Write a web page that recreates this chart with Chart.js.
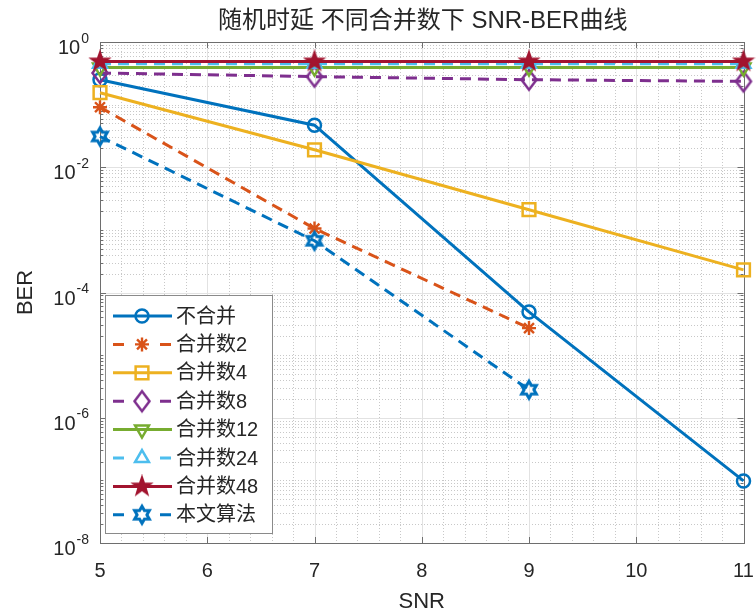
<!DOCTYPE html>
<html>
<head>
<meta charset="utf-8">
<script src="https://cdn.jsdelivr.net/npm/chart.js@4/dist/chart.umd.min.js"></script>
<style>
  html, body { margin: 0; padding: 0; background: #fff; }
  #wrap { width: 756px; height: 615px; }
</style>
</head>
<body>
<div id="wrap"><canvas id="ber" width="756" height="615"></canvas></div>
<script>
// DATA TO DISPLAY
const snr = [5, 7, 9, 11];
const berNoMerge  = [0.25, 0.047, 4.9e-5, 9.8e-8];
const berMerge2   = [0.091, 1.05e-3, 2.7e-5];
const berMerge4   = [0.155, 0.019, 2.1e-3, 2.3e-4];
const berMerge8   = [0.32, 0.28, 0.25, 0.235];
const berMerge12  = [0.39, 0.39, 0.39, 0.39];
const berMerge24  = [0.45, 0.45, 0.45, 0.45];
const berMerge48  = [0.49, 0.49, 0.49, 0.49];
const berProposed = [0.031, 6.7e-4, 2.8e-6];

const seriesNames = ["不合并", "合并数2", "合并数4", "合并数8", "合并数12", "合并数24", "合并数48", "本文算法"];
const xTicks = [5, 6, 7, 8, 9, 10, 11];
const yTickExponents = [0, -2, -4, -6, -8];

const titleText = "随机时延 不同合并数下 SNR-BER曲线";
const xTitle = "SNR";
const yTitle = "BER";

const FONT = "'Liberation Sans', Arial, 'Noto Sans CJK SC', sans-serif";
const TEXT = "#262626";

// MARKERS chart.js does not have
function makeMarker(size, draw) {
  const c = document.createElement('canvas');
  c.width = size; c.height = size;
  const g = c.getContext('2d');
  g.translate(size / 2, size / 2);
  draw(g);
  return c;
}
function starPath(g, n, outer, inner) {
  g.beginPath();
  for (let i = 0; i < n * 2; i++) {
    const r = i % 2 ? inner : outer;
    const a = -Math.PI / 2 + i * Math.PI / n;
    g.lineTo(r * Math.cos(a), r * Math.sin(a));
  }
  g.closePath();
}
const pentagram = makeMarker(24, g => {
  starPath(g, 5, 10, 4);
  g.fillStyle = '#A2142F'; g.fill();
  g.strokeStyle = '#A2142F'; g.lineWidth = 1.5; g.stroke();
});
const hexagram = makeMarker(24, g => {
  starPath(g, 6, 8.5, 4.9);
  g.strokeStyle = '#0072BD'; g.lineWidth = 3; g.lineJoin = 'miter'; g.stroke();
});
const diamond = makeMarker(26, g => {
  g.beginPath();
  g.moveTo(0, -10); g.lineTo(7.5, 0); g.lineTo(0, 10); g.lineTo(-7.5, 0); g.closePath();
  g.strokeStyle = '#7E2F8E'; g.lineWidth = 2.5; g.stroke();
});

function series(label, ys, color, dashed, style, radius, extra) {
  return Object.assign({
    label: label,
    data: ys.map((y, i) => ({ x: snr[i], y: y })),
    borderColor: color,
    backgroundColor: color,
    borderWidth: 3,
    borderDash: dashed ? [11, 7] : [],
    pointStyle: style,
    pointRadius: radius,
    pointHoverRadius: radius,
    pointBorderColor: color,
    pointBackgroundColor: 'rgba(0,0,0,0)',
    pointBorderWidth: 2.5,
    pointRotation: 0,
    tension: 0,
    clip: false
  }, extra || {});
}

const datasets = [
  series(seriesNames[0], berNoMerge, '#0072BD', false, 'circle', 6.5),
  series(seriesNames[1], berMerge2, '#D95319', true, 'star', 7, { pointBorderWidth: 2.4 }),
  series(seriesNames[2], berMerge4, '#EDB120', false, 'rect', 9),
  series(seriesNames[3], berMerge8, '#7E2F8E', true, diamond, 10),
  series(seriesNames[4], berMerge12, '#77AC30', false, 'triangle', 8, { pointRotation: 180 }),
  series(seriesNames[5], berMerge24, '#4DBEEE', true, 'triangle', 8),
  series(seriesNames[6], berMerge48, '#A2142F', false, pentagram, 10),
  series(seriesNames[7], berProposed, '#0072BD', true, hexagram, 10)
];
datasets.forEach((d, i) => { d.order = -i; });

// GRID, BOX AND TICKS (matlab look)
const matlabAxes = {
  id: 'matlabAxes',
  beforeDatasetsDraw(chart) {
    const { ctx, chartArea: a, scales: { x, y } } = chart;
    ctx.save();
    ctx.lineWidth = 1;

    // minor grid
    ctx.strokeStyle = '#c8c8c8';
    ctx.setLineDash([1, 2]);
    for (let v = 5.2; v < 11; v += 0.2) {
      if (Math.abs(v - Math.round(v)) < 1e-6) continue;
      const px = Math.round(x.getPixelForValue(v)) + 0.5;
      ctx.beginPath(); ctx.moveTo(px, a.top); ctx.lineTo(px, a.bottom); ctx.stroke();
    }
    for (let e = -8; e < 0; e++) {
      for (let m = 1; m <= 9; m++) {
        if (m === 1 && e % 2 === 0) continue;
        const py = Math.round(y.getPixelForValue(m * Math.pow(10, e))) + 0.5;
        ctx.beginPath(); ctx.moveTo(a.left, py); ctx.lineTo(a.right, py); ctx.stroke();
      }
    }

    // major grid
    ctx.setLineDash([]);
    ctx.strokeStyle = '#e2e2e2';
    xTicks.forEach(v => {
      const px = Math.round(x.getPixelForValue(v)) + 0.5;
      ctx.beginPath(); ctx.moveTo(px, a.top); ctx.lineTo(px, a.bottom); ctx.stroke();
    });
    yTickExponents.forEach(e => {
      const py = Math.round(y.getPixelForValue(Math.pow(10, e))) + 0.5;
      ctx.beginPath(); ctx.moveTo(a.left, py); ctx.lineTo(a.right, py); ctx.stroke();
    });

    // box
    ctx.strokeStyle = '#6e6e6e';
    ctx.strokeRect(Math.round(a.left) + 0.5, Math.round(a.top) + 0.5,
                   Math.round(a.right - a.left), Math.round(a.bottom - a.top));

    // ticks
    ctx.beginPath();
    xTicks.forEach(v => {
      const px = Math.round(x.getPixelForValue(v)) + 0.5;
      ctx.moveTo(px, a.bottom); ctx.lineTo(px, a.bottom - 6);
      ctx.moveTo(px, a.top); ctx.lineTo(px, a.top + 6);
    });
    for (let e = -8; e <= 0; e++) {
      for (let m = 1; m <= 9; m++) {
        if (e === 0 && m > 1) break;
        const py = Math.round(y.getPixelForValue(m * Math.pow(10, e))) + 0.5;
        const len = (m === 1 && e % 2 === 0) ? 6 : 3;
        ctx.moveTo(a.left, py); ctx.lineTo(a.left + len, py);
        ctx.moveTo(a.right, py); ctx.lineTo(a.right - len, py);
      }
    }
    ctx.stroke();

    // tick labels
    ctx.fillStyle = TEXT;
    ctx.font = '20px ' + FONT;
    ctx.textAlign = 'center';
    ctx.textBaseline = 'alphabetic';
    xTicks.forEach(v => ctx.fillText(String(v), x.getPixelForValue(v), a.bottom + 34));

    yTickExponents.forEach(e => {
      const py = y.getPixelForValue(Math.pow(10, e));
      const exp = String(e);
      ctx.font = '14px ' + FONT;
      const ew = ctx.measureText(exp).width;
      ctx.textAlign = 'right';
      ctx.fillText(exp, a.left - 11, py + 0.5);
      ctx.font = '20px ' + FONT;
      ctx.fillText('10', a.left - 12 - ew, py + 12);
    });

    // titles
    ctx.textAlign = 'center';
    ctx.font = '22px ' + FONT;
    ctx.fillText(xTitle, (a.left + a.right) / 2, 608);
    ctx.save();
    ctx.translate(32, (a.top + a.bottom) / 2);
    ctx.rotate(-Math.PI / 2);
    ctx.fillText(yTitle, 0, 0);
    ctx.restore();
    ctx.font = '24px ' + FONT;
    ctx.textBaseline = 'middle';
    ctx.fillText(titleText, (a.left + a.right) / 2 + 1, 21);
    ctx.restore();
  }
};

// LEGEND INSIDE THE AXES
const matlabLegend = {
  id: 'matlabLegend',
  afterDatasetsDraw(chart) {
    const ctx = chart.ctx;
    ctx.save();
    ctx.fillStyle = '#fff';
    ctx.strokeStyle = '#8a8a8a';
    ctx.lineWidth = 1;
    ctx.setLineDash([]);
    ctx.fillRect(105.5, 295.5, 167, 238);
    ctx.strokeRect(105.5, 295.5, 167, 238);
    chart.data.datasets.forEach((ds, i) => {
      const y = 316 + i * 28.4;
      ctx.strokeStyle = ds.borderColor;
      ctx.lineWidth = ds.borderWidth;
      ctx.beginPath();
      if (ds.borderDash.length) {
        ctx.moveTo(113, y); ctx.lineTo(124, y);
        ctx.moveTo(160, y); ctx.lineTo(171, y);
      } else {
        ctx.moveTo(113, y); ctx.lineTo(172, y);
      }
      ctx.stroke();
      ctx.fillStyle = ds.pointBackgroundColor;
      ctx.strokeStyle = ds.pointBorderColor;
      ctx.lineWidth = ds.pointBorderWidth;
      Chart.helpers.drawPoint(ctx, {
        pointStyle: ds.pointStyle, radius: ds.pointRadius,
        rotation: ds.pointRotation, borderWidth: ds.pointBorderWidth
      }, 142, y);
      ctx.fillStyle = TEXT;
      ctx.font = '20px ' + FONT;
      ctx.textAlign = 'left';
      ctx.textBaseline = 'middle';
      ctx.fillText(ds.label, 176, y + 1);
    });
    ctx.restore();
  }
};

// CREATE THE CHART
new Chart(document.getElementById('ber'), {
  type: 'line',
  data: { datasets: datasets },
  options: {
    responsive: false,
    animation: false,
    events: [],
    layout: { padding: { left: 100, top: 42, right: 9, bottom: 72 } },
    scales: {
      x: { type: 'linear', min: 5, max: 11, display: false },
      y: { type: 'logarithmic', min: 1e-8, max: 1, display: false }
    },
    plugins: {
      legend: { display: false },
      tooltip: { enabled: false },
      title: { display: false }
    }
  },
  plugins: [matlabAxes, matlabLegend]
});
</script>
</body>
</html>
